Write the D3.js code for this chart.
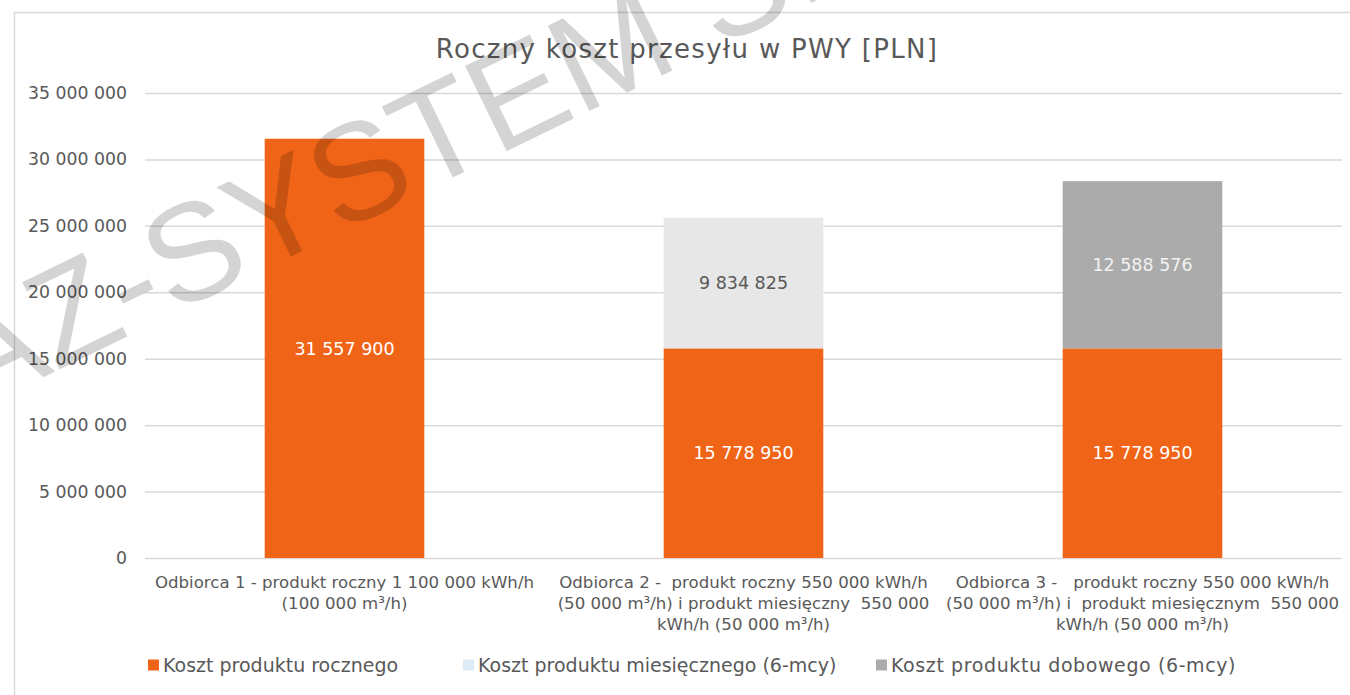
<!DOCTYPE html>
<html>
<head>
<meta charset="utf-8">
<script src="https://cdn.jsdelivr.net/npm/d3@7"></script>
<style>
    html, body { margin: 0; padding: 0; background: #fff; }
    .chart { width: 1350px; height: 695px; }
    text { font-family: 'DejaVu Sans', sans-serif; }
</style>
</head>
<body>
<div class="chart"></div>
<script>
(function() {
    'use strict';

    // DATA *************************************************************************
    var CATEGORIES = [
        ['Odbiorca 1 - produkt roczny 1 100 000 kWh/h', '(100 000 m³/h)'],
        ['Odbiorca 2 -  produkt roczny 550 000 kWh/h', '(50 000 m³/h) i produkt miesięczny  550 000', 'kWh/h (50 000 m³/h)'],
        ['Odbiorca 3 -   produkt roczny 550 000 kWh/h', '(50 000 m³/h) i  produkt miesięcznym  550 000', 'kWh/h (50 000 m³/h)']
    ];
    var SERIES_NAMES = [
        'Koszt produktu rocznego',
        'Koszt produktu miesięcznego (6-mcy)',
        'Koszt produktu dobowego (6-mcy)'
    ];
    var ROCZNY = [31557900, 15778950, 15778950];
    var MIESIECZNY = [0, 9834825, 0];
    var DOBOWY = [0, 0, 12588576];
    var Y_TICKS = [0, 5000000, 10000000, 15000000, 20000000, 25000000, 30000000, 35000000];

    var TITLE = 'Roczny koszt przesyłu w PWY [PLN]';
    var WATERMARK = 'GAZ-SYSTEM S.A.';

    // STYLES
    var COLORS = ['#F06418', '#E7E7E7', '#ABABAB'];
    var LEGEND_COLORS = ['#F06418', '#DDEBF7', '#ABABAB'];
    var LABEL_COLORS = ['#FFFFFF', '#595959', '#F2F2F2'];
    var TEXT_COLOR = '#595959';
    var GRID_COLOR = '#D9D9D9';

    // MARGIN CONVENTION ************************************************************
    var W = 1350, H = 695;
    var margin = {top: 93, right: 8, bottom: 137, left: 145};
    var width = W - margin.left - margin.right,
        height = H - margin.top - margin.bottom;

    var root = d3.select('.chart').append('svg')
        .attr('width', W)
        .attr('height', H);

    // chart border (right & bottom edges run off the picture)
    root.append('rect')
        .attr('x', 14.5).attr('y', 12.5)
        .attr('width', 1400).attr('height', 800)
        .attr('fill', 'none')
        .attr('stroke', GRID_COLOR)
        .attr('stroke-width', 1.5);

    var svg = root.append('g')
        .attr('transform', 'translate(' + margin.left + ',' + margin.top + ')');

    // number format with spaces as thousands separator
    var fmt = d3.formatLocale({decimal: ',', thousands: ' ', grouping: [3], currency: ['', '']}).format(',d');

    // TABLE FOR STACK
    var table = CATEGORIES.map(function(c, i) {
        return {idx: i, s0: ROCZNY[i], s1: MIESIECZNY[i], s2: DOBOWY[i]};
    });
    var keys = ['s0', 's1', 's2'];
    var series = d3.stack().keys(keys)(table);

    // SCALES
    var xScale = d3.scaleBand()
        .domain(d3.range(CATEGORIES.length))
        .range([0, width])
        .paddingInner(0.6)
        .paddingOuter(0.3);

    var yScale = d3.scaleLinear()
        .domain([0, 35000000])
        .range([height, 0]);

    // GRIDLINES + Y AXIS
    var yAxis = d3.axisLeft(yScale)
        .tickValues(Y_TICKS)
        .tickSize(-width)
        .tickPadding(18)
        .tickFormat(fmt);

    var yAxisG = svg.append('g').call(yAxis);
    yAxisG.select('.domain').remove();
    yAxisG.selectAll('.tick line')
        .attr('stroke', GRID_COLOR)
        .attr('stroke-width', 1.5);
    yAxisG.selectAll('.tick text')
        .attr('fill', TEXT_COLOR)
        .style('font-family', "'DejaVu Sans', sans-serif")
        .style('font-size', '17.3px');

    // BARS
    var layers = svg.selectAll('g.layer')
        .data(series)
        .enter().append('g')
        .attr('class', 'layer')
        .attr('fill', function(d, i) { return COLORS[i]; });

    layers.selectAll('rect')
        .data(function(d) { return d.filter(function(p) { return p[1] - p[0] > 0; }); })
        .enter().append('rect')
        .attr('x', function(d) { return xScale(d.data.idx); })
        .attr('width', xScale.bandwidth())
        .attr('y', function(d) { return yScale(d[1]); })
        .attr('height', function(d) { return yScale(d[0]) - yScale(d[1]); });

    // DATA LABELS
    series.forEach(function(s, si) {
        svg.append('g').selectAll('text')
            .data(s.filter(function(p) { return p[1] - p[0] > 0; }))
            .enter().append('text')
            .attr('x', function(d) { return xScale(d.data.idx) + xScale.bandwidth() / 2; })
            .attr('y', function(d) { return yScale((d[0] + d[1]) / 2); })
            .attr('dy', '0.36em')
            .attr('text-anchor', 'middle')
            .attr('fill', LABEL_COLORS[si])
            .style('font-size', '17.5px')
            .text(function(d) { return fmt(d[1] - d[0]); });
    });

    // X AXIS LABELS (wrapped lines)
    var xLabels = svg.append('g')
        .attr('transform', 'translate(0,' + height + ')')
        .selectAll('text')
        .data(CATEGORIES)
        .enter().append('text')
        .attr('x', function(d, i) { return xScale(i) + xScale.bandwidth() / 2; })
        .attr('y', 30)
        .attr('text-anchor', 'middle')
        .attr('fill', TEXT_COLOR)
        .style('font-size', '16.6px')
        .style('white-space', 'pre');

    xLabels.selectAll('tspan')
        .data(function(d) { return d; })
        .enter().append('tspan')
        .attr('x', function() { return d3.select(this.parentNode).attr('x'); })
        .attr('dy', function(d, i) { return i === 0 ? 0 : 21; })
        .text(function(d) { return d; });

    // TITLE
    root.append('text')
        .attr('x', 687)
        .attr('y', 58)
        .attr('text-anchor', 'middle')
        .attr('fill', TEXT_COLOR)
        .style('font-size', '26px')
        .style('letter-spacing', '1.3px')
        .text(TITLE);

    // LEGEND
    var legendX = [148, 463, 876];
    var legend = root.append('g')
        .selectAll('g')
        .data(SERIES_NAMES)
        .enter().append('g')
        .attr('transform', function(d, i) { return 'translate(' + legendX[i] + ',665)'; });

    legend.append('rect')
        .attr('x', 0).attr('y', -5.5)
        .attr('width', 11).attr('height', 11)
        .attr('fill', function(d, i) { return LEGEND_COLORS[i]; });

    legend.append('text')
        .attr('x', 15)
        .attr('dy', '0.36em')
        .attr('fill', TEXT_COLOR)
        .style('font-size', '19px')
        .style('letter-spacing', function(d, i) { return i === 2 ? '0.6px' : '0px'; })
        .text(function(d) { return d; });

    // WATERMARK (runs off the top-left corner, as in the original)
    root.append('text')
        .attr('transform', 'translate(392,152) rotate(-26)')
        .attr('text-anchor', 'middle')
        .attr('dy', '0.36em')
        .attr('fill', '#000')
        .attr('fill-opacity', 0.17)
        .style('font-family', "'Liberation Sans', Arial, sans-serif")
        .style('font-size', '138px')
        .text(WATERMARK);

}());
</script>
</body>
</html>
